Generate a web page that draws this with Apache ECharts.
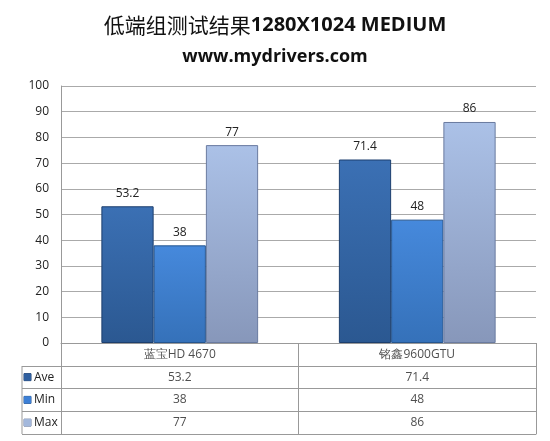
<!DOCTYPE html>
<html>
<head>
<meta charset="utf-8">
<title>低端组测试结果</title>
<script src="https://cdn.jsdelivr.net/npm/echarts@6/dist/echarts.min.js"></script>
<style>
    html, body { margin: 0; padding: 0; background: #fff; }
    #charts { width: 550px; height: 441px; }
</style>
</head>
<body>
<div id="charts"></div>
<script type="text/javascript">
var categories = ['蓝宝HD 4670', '铭鑫9600GTU'];
var seriesNames = ['Ave', 'Min', 'Max'];
var ave = [53.2, 71.4];
var min = [38, 48];
var max = [77, 86];
var yTicks = [0, 10, 20, 30, 40, 50, 60, 70, 80, 90, 100];

var values = [ave, min, max];

// bar fills: lighter top, darker bottom
function barFill(top, bottom) {
    return new echarts.graphic.LinearGradient(0, 0, 0, 1, [
        { offset: 0, color: top },
        { offset: 1, color: bottom }
    ]);
}
var fills = [
    barFill('#3b70b4', '#2b5891'),
    barFill('#4689dc', '#3571b9'),
    barFill('#abc1e7', '#8797ba')
];
var borders = ['#1d3f6e', '#25558f', '#6a7ba0'];
var iconColors = ['#2f5f9f', '#3c7fd6', '#a3b8dc'];

var myChart = echarts.init(document.getElementById('charts'));

// cells of the data table: header row holds the category names
var rows = [''].concat(seriesNames);
var cells = [];
for (var c = 0; c < categories.length; c++) {
    cells.push([c, 0, categories[c]]);
    for (var s = 0; s < seriesNames.length; s++) {
        cells.push([c, s + 1, values[s][c]]);
    }
}

var rich = {};
for (var k = 0; k < seriesNames.length; k++) {
    rich['i' + k] = { width: 7, height: 7, backgroundColor: iconColors[k], borderColor: borders[k], borderWidth: 0.5 };
}
rich.t = { fontSize: 12, color: '#222', padding: [0, 0, 0, 3], fontFamily: 'Open Sans' };

var barSeries = seriesNames.map(function (name, i) {
    return {
        name: name,
        type: 'bar',
        xAxisIndex: 0,
        yAxisIndex: 0,
        data: values[i],
        barGap: '0%',
        barCategoryGap: '34%',
        itemStyle: { color: fills[i], borderColor: borders[i], borderWidth: 1 },
        label: {
            show: true,
            position: 'top',
            distance: 7,
            color: '#222',
            fontSize: 12,
            fontFamily: 'Open Sans'
        }
    };
});

var option = {
    animation: false,
    title: [{
        text: '{c|低端组测试结果}{b|1280X1024 MEDIUM}',
        left: 'center',
        top: 10,
        textStyle: {
            rich: {
                c: { fontSize: 21, fontWeight: 'normal', color: '#111', fontFamily: 'Noto Sans CJK SC' },
                b: { fontSize: 20, fontWeight: 'bold', color: '#111', fontFamily: 'Open Sans' }
            }
        }
    }, {
        text: 'www.mydrivers.com',
        left: 'center',
        top: 43,
        textStyle: { fontSize: 18, fontWeight: 'bold', color: '#111', fontFamily: 'Open Sans' }
    }],
    grid: [
        { left: 61, right: 14, top: 86, bottom: 98 },
        { left: 61, right: 14, top: 343, bottom: 7 }
    ],
    xAxis: [{
        gridIndex: 0,
        type: 'category',
        data: categories,
        axisLine: { show: true, lineStyle: { color: '#999' } },
        axisTick: { show: false },
        axisLabel: { show: false }
    }, {
        gridIndex: 1,
        type: 'category',
        data: categories,
        axisLine: { show: true, lineStyle: { color: '#999' } },
        axisTick: { show: false },
        axisLabel: { show: false },
        splitLine: { show: true, lineStyle: { color: '#999' } }
    }],
    yAxis: [{
        gridIndex: 0,
        type: 'value',
        min: 0,
        max: 100,
        interval: 10,
        axisLine: { show: true, lineStyle: { color: '#999' } },
        axisTick: { show: false },
        axisLabel: { color: '#222', fontSize: 12, margin: 12, fontFamily: 'Open Sans',
            formatter: function (v) { return yTicks.indexOf(v) >= 0 ? v : ''; } },
        splitLine: { show: true, lineStyle: { color: '#aaa' } }
    }, {
        gridIndex: 1,
        type: 'category',
        data: rows,
        inverse: true,
        axisLine: { show: true, lineStyle: { color: '#999' } },
        axisTick: {
            show: true,
            length: 39,
            interval: function (i) { return i > 0; },
            lineStyle: { color: '#999' }
        },
        axisLabel: {
            align: 'left',
            margin: 37,
            formatter: function (v, i) {
                if (!v) return '';
                return '{i' + (i - 1) + '|}{t|' + v + '}';
            },
            rich: rich
        },
        splitLine: { show: true, lineStyle: { color: '#999' } }
    }],
    graphic: [{
        type: 'line',
        shape: { x1: 22, y1: 366, x2: 22, y2: 434 },
        style: { stroke: '#999', lineWidth: 1 }
    }],
    series: barSeries.concat([{
        type: 'scatter',
        xAxisIndex: 1,
        yAxisIndex: 1,
        data: cells,
        symbolSize: 1,
        itemStyle: { color: 'rgba(0,0,0,0)' },
        label: {
            show: true,
            position: 'inside',
            color: '#222',
            fontSize: 12,
            fontFamily: 'Open Sans',
            formatter: function (p) { return p.data[2]; }
        }
    }])
};

myChart.setOption(option);
</script>
</body>
</html>
